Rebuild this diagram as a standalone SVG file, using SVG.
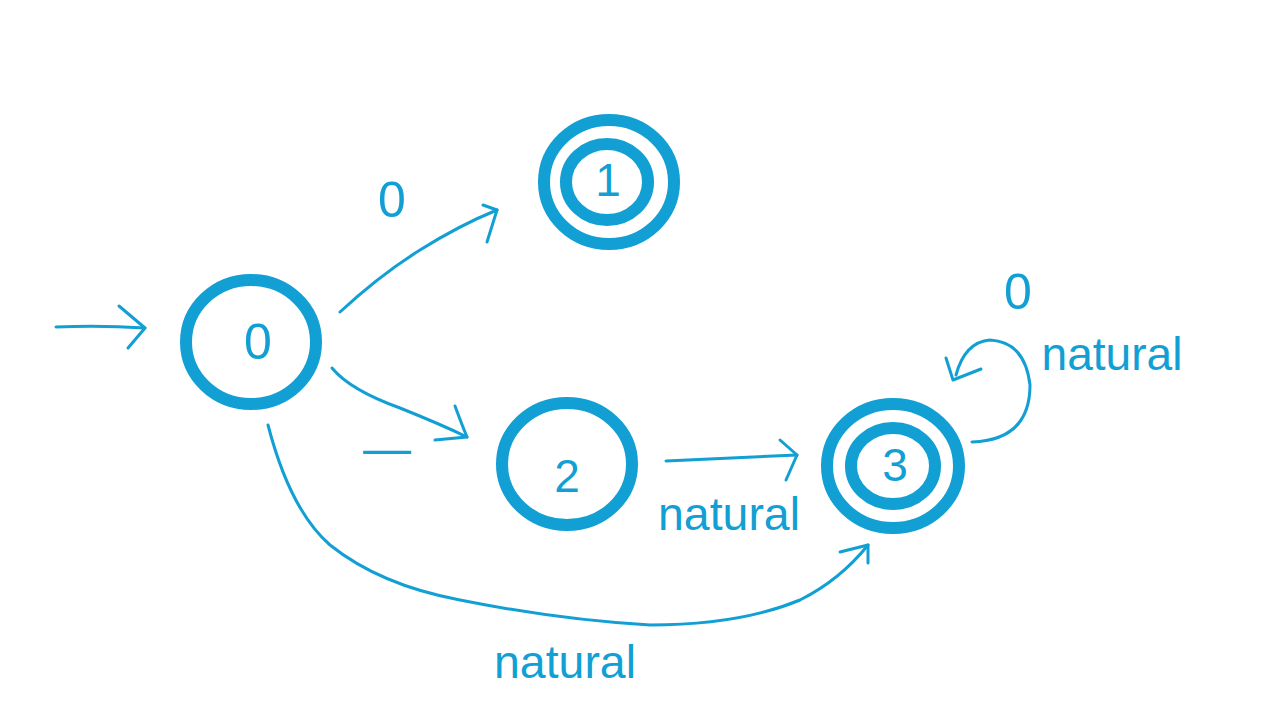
<svg xmlns="http://www.w3.org/2000/svg" width="1280" height="720" viewBox="0 0 1280 720">
<style>
.ring{fill:none;stroke:#129fd4;stroke-width:12}
.edge{fill:none;stroke:#129fd4;stroke-width:3;stroke-linecap:round;stroke-linejoin:round}
.lbl{font-family:"Liberation Sans",Arial,sans-serif;fill:#129fd4;text-anchor:middle}
.digit{font-size:50px}
.word{font-size:46px}
</style>
<rect width="1280" height="720" fill="#ffffff"/>
<g id="connectors">
  <g id="start">
    <path class="edge" d="M56,327 Q100,325 145,328"/>
    <path class="edge" d="M119,306 L145,328 L128,348"/>
  </g>
  <g id="e0-1">
    <path class="edge" d="M340,312 Q380,275 420,250 Q460,225 497,210"/>
    <path class="edge" d="M483,205 L497,210 L487,242"/>
    <text class="lbl digit" x="392" y="217">0</text>
  </g>
  <g id="e0-2">
    <path class="edge" d="M332,368 Q350,390 400,408 Q440,424 467,437"/>
    <path class="edge" d="M455,406 Q462,425 467,437 L435,440"/>
    <text class="lbl" x="387" y="465" style="font-size:48px">—</text>
  </g>
  <g id="e0-3">
    <path class="edge" d="M268,425 Q290,510 330,545 Q380,585 460,600 Q560,620 650,625 Q740,625 800,600 Q840,580 868,545"/>
    <path class="edge" d="M840,552 L868,545 L868,563"/>
    <text class="lbl word" x="565" y="678" textLength="142" lengthAdjust="spacingAndGlyphs">natural</text>
  </g>
  <g id="e2-3">
    <path class="edge" d="M666,461 Q730,458 797,455"/>
    <path class="edge" d="M780,440 L797,455 L786,480"/>
    <text class="lbl word" x="729" y="530" textLength="142" lengthAdjust="spacingAndGlyphs">natural</text>
  </g>
  <g id="e3-3">
    <path class="edge" d="M972,442 Q1030,440 1030,385 Q1025,342 990,340 Q965,342 956,375"/>
    <path class="edge" d="M946,358 L953,380 L981,369"/>
    <text class="lbl digit" x="1018" y="309">0</text>
    <text class="lbl word" x="1112" y="370" textLength="141" lengthAdjust="spacingAndGlyphs">natural</text>
  </g>
</g>
<g id="node0">
  <ellipse class="ring" cx="251" cy="342" rx="65" ry="62"/>
  <text class="lbl digit" x="258" y="359">0</text>
</g>
<g id="node1">
  <ellipse class="ring" cx="609" cy="182" rx="65" ry="62"/>
  <ellipse class="ring" cx="607" cy="182" rx="41" ry="38"/>
  <text class="lbl digit" x="608" y="196" style="font-size:46px">1</text>
</g>
<g id="node2">
  <ellipse class="ring" cx="567" cy="464" rx="65" ry="61"/>
  <text class="lbl digit" x="567" y="492" style="font-size:46px">2</text>
</g>
<g id="node3">
  <ellipse class="ring" cx="893" cy="466" rx="66" ry="62"/>
  <ellipse class="ring" cx="893" cy="466" rx="42" ry="38"/>
  <text class="lbl digit" x="895" y="481" style="font-size:46px">3</text>
</g>
</svg>
